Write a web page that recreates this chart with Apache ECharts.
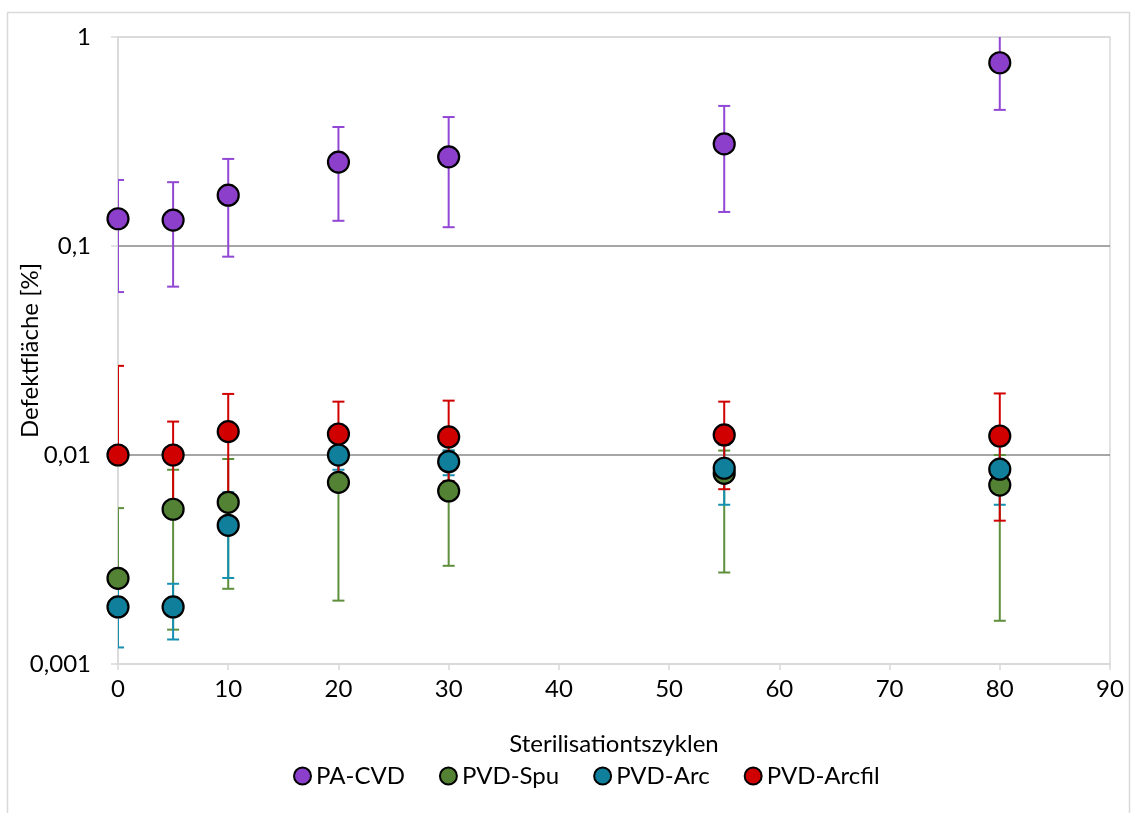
<!DOCTYPE html>
<html>
<head>
<meta charset="utf-8">
<script src="https://cdn.jsdelivr.net/npm/echarts@6/dist/echarts.min.js"></script>
<style>html,body{margin:0;padding:0;background:#fff;}#c{width:1136px;height:813px;}</style>
</head>
<body>
<div id="c"></div>
<script>
const cycles = [0, 5, 10, 20, 30, 55, 80];

const paCvd     = [0.135, 0.133, 0.175, 0.252, 0.267, 0.308, 0.753];
const paCvdHigh = [0.207, 0.202, 0.261, 0.371, 0.414, 0.468, 1.25];
const paCvdLow  = [0.0602, 0.0639, 0.0889, 0.132, 0.123, 0.1455, 0.448];

const pvdSpu     = [0.00257, 0.0055, 0.00594, 0.0074, 0.00673, 0.00817, 0.00718];
const pvdSpuHigh = [0.00557, 0.0085, 0.00957, 0.0095, 0.0105, 0.0105, 0.0100];
const pvdSpuLow  = [0.0019, 0.00146, 0.00229, 0.00201, 0.00295, 0.00274, 0.00161];

const pvdArc     = [0.001875, 0.001875, 0.00461, 0.0100, 0.00929, 0.00864, 0.00855];
const pvdArcHigh = [0.0024, 0.00242, 0.00663, 0.0115, 0.0105, 0.0112, 0.0111];
const pvdArcLow  = [0.0012, 0.00131, 0.00258, 0.0085, 0.0080, 0.00578, 0.00578];

const pvdArcfil     = [0.0100, 0.0100, 0.01294, 0.0126, 0.0122, 0.01247, 0.01233];
const pvdArcfilHigh = [0.0267, 0.01445, 0.0196, 0.0180, 0.0182, 0.0180, 0.0197];
const pvdArcfilLow  = [0.0100, 0.0058, 0.0065, 0.0078, 0.0075, 0.00686, 0.00485];

const yTickLabels = {0.001: '0,001', 0.01: '0,01', 0.1: '0,1', 1: '1'};

const FONT = 'Lato';
const FS = 24;
const seriesDefs = [
  {name: 'PA-CVD', v: paCvd, hi: paCvdHigh, lo: paCvdLow, fill: '#8b3fca', err: '#9147d4'},
  {name: 'PVD-Spu', v: pvdSpu, hi: pvdSpuHigh, lo: pvdSpuLow, fill: '#548235', err: '#5e8f3c'},
  {name: 'PVD-Arc', v: pvdArc, hi: pvdArcHigh, lo: pvdArcLow, fill: '#0f7f9c', err: '#1690b2'},
  {name: 'PVD-Arcfil', v: pvdArcfil, hi: pvdArcfilHigh, lo: pvdArcfilLow, fill: '#d00000', err: '#d00000'}
];

function errRender(color) {
  return function (params, api) {
    const x = api.value(0), lo = api.value(1), hi = api.value(2);
    const pHi = api.coord([x, hi]);
    const pLo = api.coord([x, lo]);
    const hw = 6;
    const st = {stroke: color, lineWidth: 2};
    return {
      type: 'group',
      children: [
        {type: 'line', shape: {x1: pHi[0], y1: pHi[1], x2: pLo[0], y2: pLo[1]}, style: st},
        {type: 'line', shape: {x1: pHi[0] - hw, y1: pHi[1], x2: pHi[0] + hw, y2: pHi[1]}, style: st},
        {type: 'line', shape: {x1: pLo[0] - hw, y1: pLo[1], x2: pLo[0] + hw, y2: pLo[1]}, style: st}
      ]
    };
  };
}

const series = [];
seriesDefs.forEach(function (d) {
  series.push({
    type: 'custom',
    name: d.name + '_err',
    clip: true,
    z: 2,
    renderItem: errRender(d.err),
    data: cycles.map(function (c, k) { return [c, d.lo[k], d.hi[k]]; })
  });
});
seriesDefs.forEach(function (d, i) {
  series.push({
    type: 'scatter',
    name: d.name,
    z: 5 + i,
    symbol: 'circle',
    symbolSize: 21,
    itemStyle: {color: d.fill, borderColor: '#000', borderWidth: 2.2, opacity: 1},
    data: cycles.map(function (c, k) { return [c, d.v[k]]; })
  });
});

const chart = echarts.init(document.getElementById('c'), null, {renderer: 'canvas'});
chart.setOption({
  animation: false,
  backgroundColor: '#fff',
  textStyle: {fontFamily: FONT},
  graphic: [{
    type: 'rect',
    shape: {x: 7.5, y: 12.5, width: 1122, height: 830},
    style: {fill: 'none', stroke: '#d9d9d9', lineWidth: 1.5},
    silent: true
  }],
  grid: {left: 118, right: 26, top: 37, bottom: 149, containLabel: false, outerBoundsMode: 'none',
         show: true, borderColor: '#d9d9d9', borderWidth: 1.5},
  legend: {
    data: seriesDefs.map(function (d) { return d.name; }),
    bottom: 20,
    left: 288,
    icon: 'circle',
    itemWidth: 17,
    itemHeight: 17,
    itemGap: 34,
    textStyle: {fontFamily: FONT, fontSize: FS, color: '#000'}
  },
  xAxis: {
    type: 'value',
    min: 0, max: 90, interval: 10,
    name: 'Sterilisationtszyklen',
    nameLocation: 'middle',
    nameGap: 68,
    nameTextStyle: {fontFamily: FONT, fontSize: FS, color: '#000'},
    axisLine: {show: true, lineStyle: {color: '#d9d9d9', width: 1.5}},
    axisTick: {show: true, length: 6, lineStyle: {color: '#d9d9d9', width: 1.5}},
    axisLabel: {fontFamily: FONT, fontSize: FS, color: '#000', margin: 13},
    splitLine: {show: false}
  },
  yAxis: {
    type: 'log',
    logBase: 10,
    min: 0.001, max: 1,
    name: 'Defektfläche [%]',
    nameLocation: 'middle',
    nameGap: 76,
    nameMoveOverlap: false,
    nameRotate: 90,
    nameTextStyle: {fontFamily: FONT, fontSize: FS, color: '#000'},
    axisLine: {show: true, lineStyle: {color: '#d9d9d9', width: 1.5}},
    axisTick: {show: true, length: 7, lineStyle: {color: '#d9d9d9', width: 1.5}},
    axisLabel: {
      fontFamily: FONT, fontSize: FS, color: '#000', margin: 27,
      formatter: function (v) {
        const keys = [0.001, 0.01, 0.1, 1];
        for (const k of keys) { if (Math.abs(v - k) / k < 1e-6) return yTickLabels[k]; }
        return String(v).replace('.', ',');
      }
    },
    splitLine: {show: true, lineStyle: {color: ['#d9d9d9', '#888888', '#888888', '#d9d9d9'], width: 1.5}}
  },
  series: series
});
</script>
</body>
</html>
